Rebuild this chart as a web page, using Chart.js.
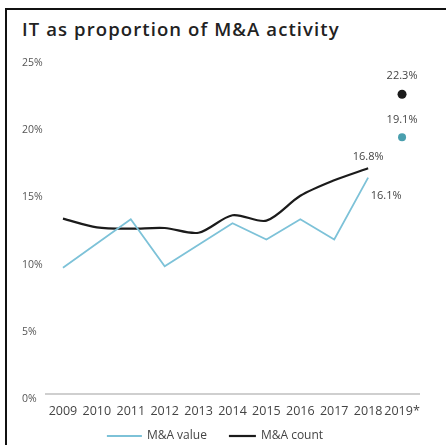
<!DOCTYPE html>
<html>
<head>
<meta charset="utf-8">
<script src="https://cdn.jsdelivr.net/npm/chart.js@4"></script>
<style>
  html, body { margin: 0; padding: 0; background: #fff; }
  #wrap { position: relative; width: 446px; height: 445px; overflow: hidden; }
  #frame {
    position: absolute; left: 5px; top: 8px; width: 460px; height: 460px;
    border-top: 2px solid #111; border-left: 2px solid #111;
  }
  #title {
    position: absolute; left: 22px; top: 20px; line-height: 1;
    font-family: "Open Sans", sans-serif; font-weight: 600; font-size: 18.5px;
    letter-spacing: 1.1px; color: #222; white-space: nowrap;
  }
  canvas { position: absolute; left: 0; top: 0; }
</style>
</head>
<body>
<div id="wrap">
  <div id="frame"></div>
  <div id="title">IT as proportion of M&amp;A activity</div>
  <canvas id="chart" width="446" height="445"></canvas>
</div>
<script>
// ── Dados ──
const years      = ['2009', '2010', '2011', '2012', '2013', '2014', '2015', '2016', '2017', '2018', '2019*'];
const maValue    = [9.4, 11.2, 13.0, 9.5, 11.1, 12.7, 11.5, 13.0, 11.5, 16.1, null];
const maCount    = [13.05, 12.4, 12.3, 12.35, 12.0, 13.3, 12.9, 14.75, 15.9, 16.8, null];
const valueEst   = [null, null, null, null, null, null, null, null, null, null, 19.1];
const countEst   = [null, null, null, null, null, null, null, null, null, null, 22.3];
const yTicks     = [0, 5, 10, 15, 20, 25];

const BLUE  = '#7dc2d8';
const TEAL  = '#4a9fae';
const BLACK = '#1b1b1b';
const FONT  = '"Open Sans", sans-serif';

// ── Rótulos de valor ao lado dos pontos ──
const pointLabels = {
  id: 'pointLabels',
  afterDatasetsDraw(chart) {
    const ctx = chart.ctx;
    const items = [
      { ds: 1, i: 9,  dx: 0,  dy: -11 },
      { ds: 0, i: 9,  dx: 18, dy: 18 },
      { ds: 3, i: 10, dx: 0,  dy: -18 },
      { ds: 2, i: 10, dx: 0,  dy: -17 },
    ];
    ctx.save();
    ctx.font = '11px ' + FONT;
    ctx.fillStyle = '#444';
    ctx.textAlign = 'center';
    ctx.textBaseline = 'middle';
    items.forEach(it => {
      const pt = chart.getDatasetMeta(it.ds).data[it.i];
      const v = chart.data.datasets[it.ds].data[it.i];
      ctx.fillText(v.toFixed(1) + '%', pt.x + it.dx, pt.y + it.dy);
    });
    ctx.restore();
  }
};

// ── Legenda desenhada à mão (linha + texto) ──
const lineLegend = {
  id: 'lineLegend',
  afterDraw(chart) {
    const ctx = chart.ctx;
    const sets = chart.data.datasets.slice(0, 2);
    const lens = [35, 27];
    const gapText = 5, gapItem = 22, y = 436;
    ctx.save();
    ctx.font = '12px ' + FONT;
    const widths = sets.map((d, i) => lens[i] + gapText + ctx.measureText(d.label).width);
    const total = widths.reduce((a, b) => a + b, 0) + gapItem;
    let x = chart.width / 2 - 8 - total / 2;
    sets.forEach((d, i) => {
      ctx.strokeStyle = d.borderColor;
      ctx.lineWidth = d.borderWidth;
      ctx.beginPath();
      ctx.moveTo(x, y);
      ctx.lineTo(x + lens[i], y);
      ctx.stroke();
      ctx.fillStyle = '#444';
      ctx.textBaseline = 'middle';
      ctx.fillText(d.label, x + lens[i] + gapText, y);
      x += widths[i] + gapItem;
    });
    ctx.restore();
  }
};

new Chart(document.getElementById('chart'), {
  type: 'line',
  data: {
    labels: years,
    datasets: [
      { label: 'M&A value', data: maValue, borderColor: BLUE, backgroundColor: BLUE,
        borderWidth: 1.8, tension: 0, pointRadius: 0 },
      { label: 'M&A count', data: maCount, borderColor: BLACK, backgroundColor: BLACK,
        borderWidth: 2.2, tension: 0.3, pointRadius: 0 },
      { label: 'value 2019', data: valueEst, showLine: false, pointRadius: 4,
        pointBackgroundColor: TEAL, pointBorderWidth: 0 },
      { label: 'count 2019', data: countEst, showLine: false, pointRadius: 4.5,
        pointBackgroundColor: BLACK, pointBorderWidth: 0 },
    ],
  },
  options: {
    responsive: false,
    animation: false,
    layout: { padding: { left: 22, right: 27, top: 58, bottom: 16 } },
    plugins: {
      legend: { display: false },
      tooltip: { enabled: false },
    },
    scales: {
      x: {
        offset: true,
        grid: { display: true, drawOnChartArea: false, drawTicks: false },
        border: { display: true, color: '#cfcfcf', width: 2 },
        ticks: {
          color: '#444', font: { family: FONT, size: 12.5 },
          autoSkip: false, maxRotation: 0, padding: 10,
        },
      },
      y: {
        min: 0, max: 25,
        afterFit: s => { s.width = 24; },
        afterBuildTicks: s => { s.ticks = yTicks.map(v => ({ value: v })); },
        grid: { display: false },
        border: { display: false },
        ticks: {
          color: '#555', font: { family: FONT, size: 10.5 },
          crossAlign: 'far', padding: 0, labelOffset: 5,
          callback: v => v + '%',
        },
      },
    },
  },
  plugins: [pointLabels, lineLegend],
});
</script>
</body>
</html>
